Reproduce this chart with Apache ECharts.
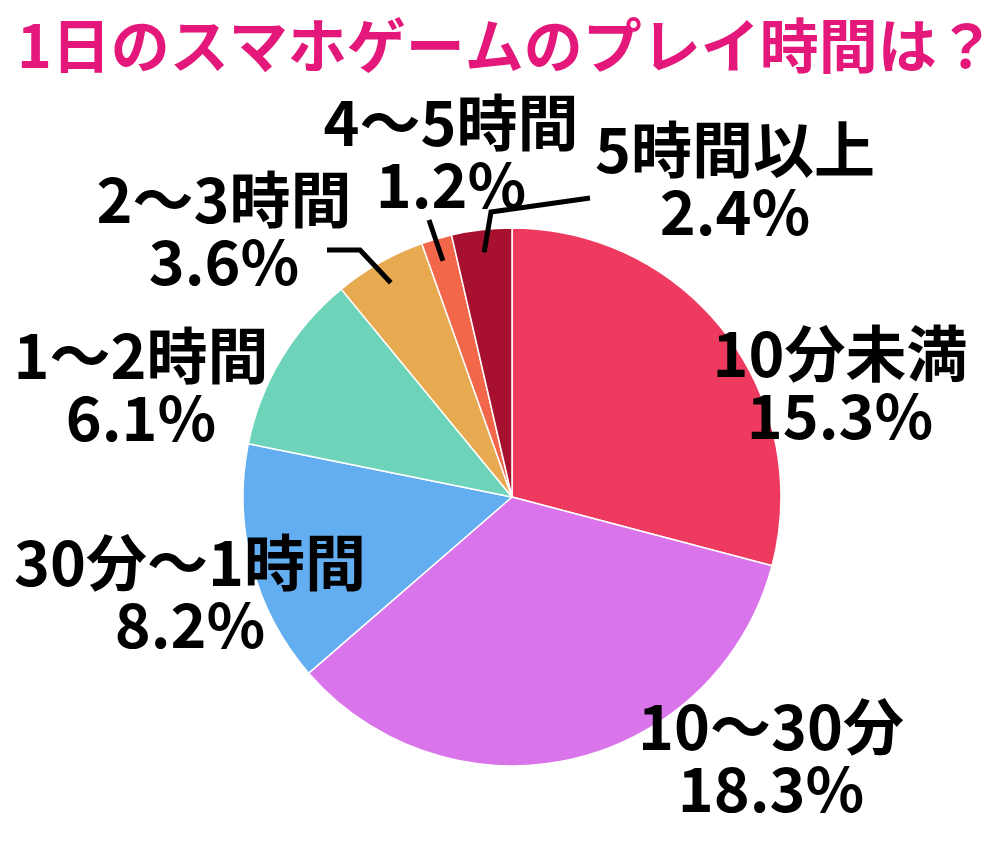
<!DOCTYPE html>
<html>
<head>
<meta charset="utf-8">
<script src="https://cdn.jsdelivr.net/npm/echarts@6/dist/echarts.min.js"></script>
<style>
html,body{margin:0;padding:0;background:#fff;}
#chart{width:1000px;height:850px;}
</style>
</head>
<body>
<div id="chart"></div>
<script>
// ---- data ----
const titleText = '1日のスマホゲームのプレイ時間は？';
const categories = ['10分未満', '10～30分', '30分～1時間', '1～2時間', '2～3時間', '4～5時間', '5時間以上'];
const percents = [15.3, 18.3, 8.2, 6.1, 3.6, 1.2, 2.4];
// slice sizes as drawn in the picture (angle shares)
const sliceShares = [104.8, 124.3, 52.3, 39.2, 19.8, 6.6, 13.0];

// ---- styles / layout ----
const colors = ['#EE3A5E', '#DA74EA', '#63AEF0', '#6DD4BA', '#E8AA50', '#F2664A', '#A8102F'];
const CX = 512, CY = 497, R = 269;
const labelPos = [[840, 385], [771, 758], [190, 594], [141, 387], [224, 231], [451, 154], [735, 181]];
const leaderBends = {
  4: [[360, 250], [327, 250]],
  5: [[429, 220]],
  6: [[491, 212], [590, 198]]
};

const total = sliceShares.reduce((a, b) => a + b, 0);
const cum = [];
sliceShares.reduce((acc, v, i) => { cum[i] = acc; return acc + v; }, 0);

// leader lines: start inside the slice at its mid-angle
const leaderGraphics = Object.keys(leaderBends).map(k => {
  const i = +k;
  const mid = (cum[i] + sliceShares[i] / 2) / total * 2 * Math.PI;
  const r = R * 0.915;
  const p0 = [CX + r * Math.sin(mid), CY - r * Math.cos(mid)];
  return {
    type: 'polyline',
    z: 100,
    shape: { points: [p0].concat(leaderBends[i]) },
    style: { stroke: '#000', lineWidth: 5, fill: null, lineJoin: 'miter' }
  };
});

const chart = echarts.init(document.getElementById('chart'));
chart.setOption({
  animation: false,
  backgroundColor: '#fff',
  title: {
    text: titleText,
    left: 12,
    top: 8,
    textStyle: { color: '#E4187A', fontSize: 59, fontWeight: 'bold', fontFamily: 'Noto Sans CJK JP', lineHeight: 66 }
  },
  graphic: leaderGraphics,
  series: [{
    type: 'pie',
    center: [CX, CY],
    radius: R,
    startAngle: 90,
    clockwise: true,
    avoidLabelOverlap: false,
    itemStyle: { borderColor: '#fff', borderWidth: 1.5 },
    label: {
      show: true,
      position: 'outside',
      color: '#000',
      fontSize: 61,
      lineHeight: 62,
      fontWeight: 'bold',
      fontFamily: 'Noto Sans CJK JP',
      align: 'center',
      formatter: p => categories[p.dataIndex] + '\n' + percents[p.dataIndex].toFixed(1) + '%'
    },
    labelLine: { show: false },
    labelLayout: function (params) {
      const i = params.dataIndex;
      return { x: labelPos[i][0], y: labelPos[i][1], align: 'center', verticalAlign: 'middle' };
    },
    data: categories.map((name, i) => ({
      name: name,
      value: sliceShares[i],
      itemStyle: { color: colors[i] }
    }))
  }]
});
</script>
</body>
</html>
